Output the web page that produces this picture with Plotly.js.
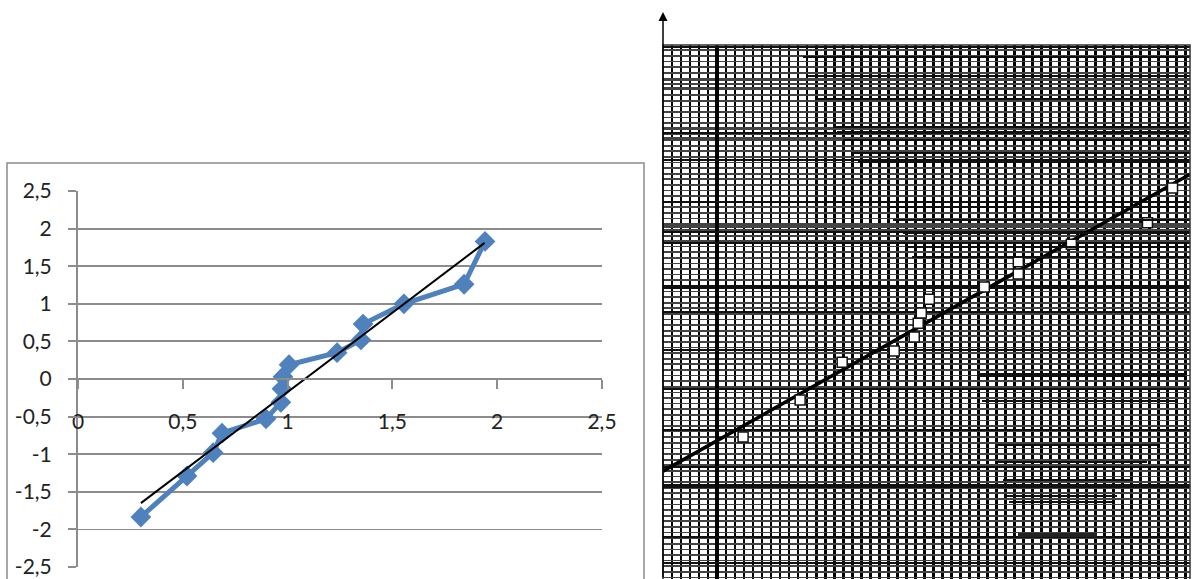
<!DOCTYPE html>
<html><head><meta charset="utf-8">
<script src="https://cdn.plot.ly/plotly-3.0.1.min.js"></script>
<style>html,body{margin:0;padding:0;background:#fff}#chart{width:1192px;height:579px}</style>
</head><body><div id="chart"></div><script>
// Left chart (Excel-style) data
const obsX = [0.30, 0.52, 0.645, 0.687, 0.897, 0.968, 0.973, 0.978, 1.007, 1.236, 1.35, 1.36, 1.555, 1.842, 1.942];
const obsY = [-1.835, -1.29, -0.98, -0.72, -0.53, -0.31, -0.13, 0.03, 0.19, 0.35, 0.52, 0.73, 1.0, 1.26, 1.83];
const fitX = [0.30, 1.94];
const fitY = [-1.65, 1.81];
const xTickVals = [0, 0.5, 1, 1.5, 2, 2.5];
const xTickText = ['0', '0,5', '1', '1,5', '2', '2,5'];
const yTickVals = [2.5, 2, 1.5, 1, 0.5, 0, -0.5, -1, -1.5, -2, -2.5];
const yTickText = ['2,5', '2', '1,5', '1', '0,5', '0', '-0,5', '-1', '-1,5', '-2', '-2,5'];

// Right chart (probability paper) data, in paper grid units
const paperX = [8.89, 15.22, 19.89, 25.67, 27.89, 28.33, 28.67, 29.56, 35.67, 39.44, 39.44, 45.33, 53.78, 56.56];
const paperY = [26.6, 33.5, 40.6, 42.7, 45.3, 47.9, 49.8, 52.4, 54.7, 57.1, 59.4, 62.7, 66.7, 73.2];
const paperFitX = [0, 58.5];
const paperFitY = [20.2, 75.8];
const paperMajorY = [99.6, 83.5, 78.5, 70.6, 65.0, 62.9, 50.0, 42.9, 35.6, 27.9, 21.0, 7.9, 3.0];
const paperBandY = [93.4, 92.7, 92.0, 84.5, 82.5, 66.0, 64.2];
const paperHeavyY = [54.7, 17.4];
const paperHeavyX = [6];

const W = 1192, H = 579;
const px = v => v / W;
const py = v => (H - v) / H;

// partial horizontal rulings on the paper (y px, x start px, x end px)
const partial = [[57,803,1190],[76,808,1190],[99,818,1190],[127,833,1190],[132,837,1190],[140,843,1190],[153,852,1190],[162,858,1190],[207,887,1190],[220,893,1190],[233,903,1190],[247,905,1190],[257,912,1190],[375,977,1185],[401,982,1177],[430,988,1167],[445,995,1157],[462,998,1147],[480,1003,1133],[496,1007,1117],[502,1009,1112]];
const shapes = [
  {type:'rect', xref:'paper', yref:'paper', x0:px(7), x1:px(644), y0:-0.02, y1:py(163), line:{color:'#8c8c8c', width:1.5}, fillcolor:'rgba(0,0,0,0)', layer:'below'},
  {type:'rect', xref:'paper', yref:'paper', x0:px(1018), x1:px(1097), y0:py(537), y1:py(533), line:{width:0}, fillcolor:'#222'}
];
partial.forEach(p => shapes.push({type:'line', xref:'paper', yref:'paper', x0:px(p[1]), x1:px(p[2]), y0:py(p[0]), y1:py(p[0]), line:{color:'#111', width:(p[0]===375?4:1.8)}}));

const data = [
  {x: obsX, y: obsY, xaxis:'x', yaxis:'y', mode:'lines+markers', type:'scatter',
   line:{color:'#4F81BD', width:5}, marker:{symbol:'diamond', size:16, color:'#4F81BD'}, hoverinfo:'skip'},
  {x: fitX, y: fitY, xaxis:'x', yaxis:'y', mode:'lines', type:'scatter', line:{color:'#000', width:2}, hoverinfo:'skip'},
  {x: paperFitX, y: paperFitY, xaxis:'x2', yaxis:'y2', mode:'lines', type:'scatter', line:{color:'#000', width:3.5}, hoverinfo:'skip'},
  {x: paperX, y: paperY, xaxis:'x2', yaxis:'y2', mode:'markers', type:'scatter',
   marker:{symbol:'square', size:10, color:'#fff', line:{color:'#111', width:1.5}}, hoverinfo:'skip'},
  {x:[0], y:[0], xaxis:'x3', yaxis:'y3', mode:'markers', marker:{opacity:0}, hoverinfo:'skip'},
  {x:[0], y:[0], xaxis:'x2', yaxis:'y4', mode:'markers', marker:{opacity:0}, hoverinfo:'skip'},
  {x:[0], y:[0], xaxis:'x2', yaxis:'y5', mode:'markers', marker:{opacity:0}, hoverinfo:'skip'}
];

const tickFont = {family:'Lato, "Open Sans", sans-serif', size:21, color:'#222'};
const rightX = [px(663), px(1190)];
const rightY = [0, py(45)];
const noLab = {showticklabels:false, ticks:'', zeroline:false, showline:false, fixedrange:true};

const layout = {
  width: W, height: H, margin:{l:0,r:0,t:0,b:0}, showlegend:false,
  paper_bgcolor:'#fff', plot_bgcolor:'rgba(0,0,0,0)', separators:', ',
  xaxis:{domain:[px(78), px(602)], range:[0,2.5], anchor:'free', position:py(379),
    tickmode:'array', tickvals:xTickVals, ticktext:xTickText, showgrid:false, zeroline:false,
    showline:true, linecolor:'#8c8c8c', linewidth:2, ticks:'outside', ticklen:9, tickwidth:2, tickcolor:'#8c8c8c',
    tickfont:tickFont, ticklabelstandoff:15, fixedrange:true},
  yaxis:{domain:[py(567), py(191)], range:[-2.5,2.5], anchor:'x',
    tickmode:'array', tickvals:yTickVals, ticktext:yTickText, showgrid:true, gridcolor:'#8c8c8c', gridwidth:1.8,
    zeroline:false, showline:true, linecolor:'#8c8c8c', linewidth:2, ticks:'outside', ticklen:8, tickwidth:2, tickcolor:'#8c8c8c',
    tickfont:tickFont, ticklabelstandoff:12, fixedrange:true},
  xaxis2:Object.assign({domain:rightX, range:[0,58.5], anchor:'y2', dtick:1, tick0:0, showgrid:true, gridcolor:'#000', gridwidth:2.7}, noLab),
  yaxis2:Object.assign({domain:rightY, range:[0,100], anchor:'x2', dtick:1.05, tick0:0.3, showgrid:true, gridcolor:'#444', gridwidth:1.7}, noLab),
  xaxis3:Object.assign({domain:rightX, range:[0,58.5], anchor:'y3', overlaying:'x2', tickmode:'array', tickvals:paperHeavyX, showgrid:true,
    gridcolor:'#000', gridwidth:3.4}, noLab),
  yaxis3:Object.assign({domain:rightY, range:[0,100], anchor:'x3', overlaying:'y2', tickmode:'array', tickvals:paperMajorY, showgrid:true,
    gridcolor:'#111', gridwidth:2.4}, noLab),
  yaxis4:Object.assign({domain:rightY, range:[0,100], anchor:'x2', overlaying:'y2', tickmode:'array', tickvals:paperHeavyY, showgrid:true,
    gridcolor:'#111', gridwidth:4.5}, noLab),
  yaxis5:Object.assign({domain:rightY, range:[0,100], anchor:'x2', overlaying:'y2', tickmode:'array', tickvals:paperBandY, showgrid:true,
    gridcolor:'#444', gridwidth:2.2}, noLab),
  shapes: shapes.concat([
    {type:'rect', xref:'paper', yref:'paper', x0:rightX[0], x1:rightX[1], y0:-0.01, y1:rightY[1], line:{color:'#333', width:1.5}, fillcolor:'rgba(0,0,0,0)'}
  ]),
  annotations:[
    {xref:'paper', yref:'paper', x:px(663), y:py(12), text:'', showarrow:true, arrowhead:2, arrowsize:1.2, arrowwidth:1.5,
     arrowcolor:'#000', axref:'pixel', ayref:'pixel', ax:0, ay:575}
  ]
};
Plotly.newPlot('chart', data, layout, {staticPlot:true, displayModeBar:false});
</script></body></html>
